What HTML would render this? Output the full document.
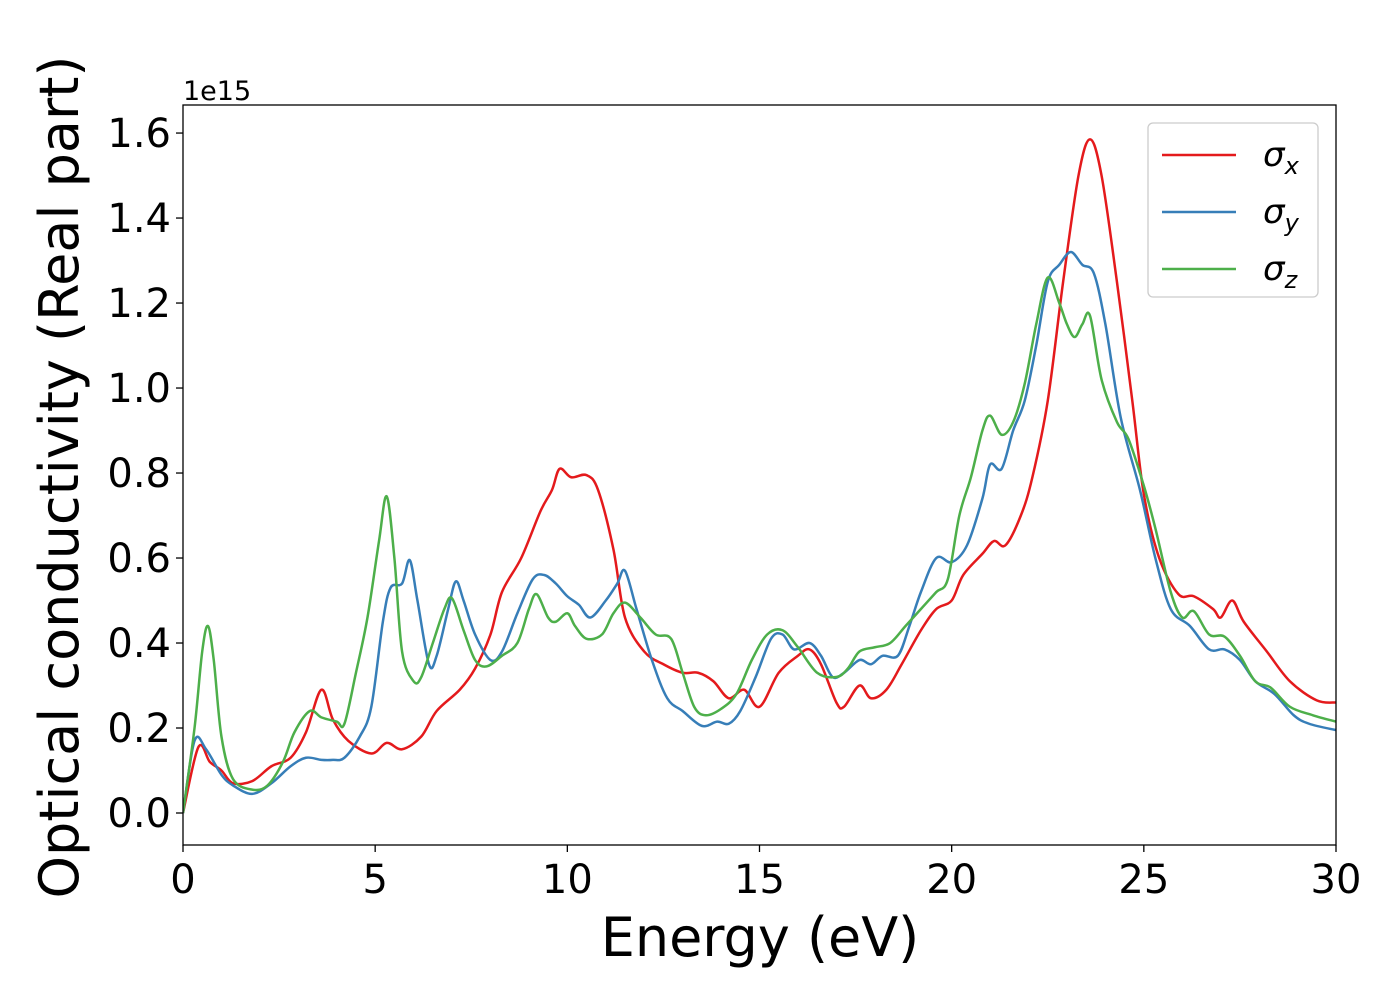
<!DOCTYPE html>
<html><head><meta charset="utf-8"><style>
body{margin:0;background:#fff}
svg{font-family:"DejaVu Sans","Liberation Sans",sans-serif}
</style></head><body>
<svg id="chart" width="1400" height="1000" xmlns="http://www.w3.org/2000/svg">
<rect width="1400" height="1000" fill="#fff"/>
<g id="plot"></g>
<g id="axes"></g>
</svg>
<script>
const xTicks=[0,5,10,15,20,25,30];
const yTicks=[0,0.2,0.4,0.6,0.8,1.0,1.2,1.4,1.6];
const yTickLabels=["0.0","0.2","0.4","0.6","0.8","1.0","1.2","1.4","1.6"];
const sxE=[0,0.4,0.7,1,1.3,1.8,2.3,2.8,3.2,3.6,3.9,4.3,4.9,5.3,5.7,6.2,6.6,7.2,7.6,8.0,8.3,8.8,9.3,9.6,9.8,10.1,10.5,10.8,11.2,11.5,12,12.5,13,13.4,13.8,14.2,14.6,15.0,15.5,16.0,16.3,16.6,17.0,17.2,17.6,17.9,18.3,18.7,19.2,19.6,20,20.3,20.8,21.1,21.4,21.8,22.1,22.5,22.9,23.3,23.6,23.9,24.3,24.7,25.0,25.4,25.9,26.3,26.8,27.0,27.3,27.6,28.2,28.8,29.5,30];
const sxV=[0,0.155,0.12,0.1,0.07,0.075,0.11,0.13,0.19,0.29,0.22,0.17,0.14,0.165,0.15,0.18,0.24,0.29,0.34,0.42,0.52,0.6,0.71,0.76,0.81,0.79,0.795,0.76,0.62,0.46,0.38,0.35,0.33,0.33,0.31,0.27,0.29,0.25,0.33,0.37,0.385,0.35,0.26,0.25,0.3,0.27,0.29,0.35,0.43,0.48,0.5,0.56,0.61,0.64,0.63,0.7,0.79,0.97,1.25,1.5,1.585,1.5,1.25,0.97,0.75,0.6,0.515,0.51,0.48,0.46,0.5,0.45,0.38,0.31,0.265,0.26];
const syE=[0,0.3,0.6,1,1.3,1.8,2.3,2.8,3.2,3.6,3.9,4.2,4.6,4.9,5.2,5.4,5.7,5.9,6.1,6.4,6.6,6.9,7.1,7.3,7.6,8.0,8.3,8.7,9.1,9.4,9.7,10,10.3,10.6,11,11.3,11.5,11.8,12.2,12.6,13.0,13.5,13.9,14.2,14.5,14.9,15.3,15.6,15.9,16.3,16.6,16.9,17.2,17.6,17.9,18.2,18.6,18.9,19.2,19.6,20,20.4,20.8,21.0,21.3,21.6,21.9,22.2,22.5,22.8,23.1,23.4,23.7,24.0,24.4,24.9,25.3,25.7,26.2,26.7,27.1,27.5,27.9,28.4,28.9,29.3,30];
const syV=[0,0.17,0.15,0.09,0.065,0.045,0.07,0.11,0.13,0.125,0.125,0.13,0.18,0.25,0.45,0.53,0.54,0.595,0.5,0.35,0.37,0.48,0.545,0.5,0.42,0.36,0.38,0.47,0.55,0.56,0.54,0.51,0.49,0.46,0.5,0.54,0.57,0.48,0.36,0.27,0.24,0.205,0.215,0.21,0.24,0.32,0.41,0.42,0.385,0.4,0.37,0.32,0.33,0.36,0.35,0.37,0.37,0.44,0.52,0.6,0.59,0.63,0.74,0.82,0.81,0.9,0.97,1.1,1.25,1.29,1.32,1.29,1.27,1.15,0.93,0.76,0.6,0.48,0.44,0.385,0.385,0.36,0.31,0.28,0.23,0.21,0.195];
const szE=[0,0.3,0.5,0.65,0.8,1.0,1.3,1.8,2.2,2.6,2.9,3.3,3.6,4.0,4.2,4.5,4.8,5.1,5.3,5.5,5.7,6.0,6.2,6.5,6.8,7.0,7.3,7.6,7.9,8.3,8.7,9.0,9.2,9.5,9.7,10.0,10.2,10.5,10.9,11.2,11.5,11.9,12.3,12.7,13.0,13.3,13.6,14.0,14.4,14.8,15.2,15.6,16.0,16.5,17.0,17.3,17.6,18.0,18.4,18.8,19.2,19.6,19.9,20.2,20.5,20.8,21.0,21.3,21.6,21.9,22.2,22.5,22.8,23.0,23.2,23.4,23.6,23.9,24.3,24.6,25.0,25.3,25.7,26.0,26.3,26.7,27.1,27.5,27.9,28.3,28.8,29.4,30];
const szV=[0,0.2,0.38,0.44,0.36,0.18,0.08,0.055,0.065,0.12,0.19,0.24,0.225,0.215,0.21,0.33,0.46,0.64,0.745,0.6,0.38,0.31,0.32,0.4,0.48,0.505,0.43,0.36,0.345,0.37,0.4,0.48,0.515,0.46,0.45,0.47,0.44,0.41,0.42,0.47,0.495,0.46,0.42,0.41,0.33,0.25,0.23,0.245,0.28,0.36,0.42,0.43,0.39,0.33,0.32,0.34,0.38,0.39,0.4,0.44,0.48,0.52,0.55,0.7,0.79,0.9,0.935,0.89,0.92,1.01,1.15,1.26,1.2,1.15,1.12,1.15,1.17,1.02,0.92,0.88,0.77,0.67,0.52,0.46,0.475,0.42,0.415,0.37,0.31,0.295,0.25,0.23,0.215];

const L=183,R=1336,T=105,B=845;
const xMin=0,xMax=30,yMin=-0.0753,yMax=1.666;
const X=v=>L+(v-xMin)/(xMax-xMin)*(R-L);
const Y=v=>B-(v-yMin)/(yMax-yMin)*(B-T);
const NS="http://www.w3.org/2000/svg";
function mk(tag,attrs,parent){const e=document.createElementNS(NS,tag);for(const k in attrs)e.setAttribute(k,attrs[k]);parent.appendChild(e);return e;}
function pathD(xs,ys){const p=xs.map((x,i)=>[X(x),Y(ys[i])]);let d=`M${p[0][0]},${p[0][1]}`;
for(let i=0;i<p.length-1;i++){const p0=p[Math.max(i-1,0)],p1=p[i],p2=p[i+1],p3=p[Math.min(i+2,p.length-1)];
const c1=[p1[0]+(p2[0]-p0[0])/6,p1[1]+(p2[1]-p0[1])/6],c2=[p2[0]-(p3[0]-p1[0])/6,p2[1]-(p3[1]-p1[1])/6];
d+=`C${c1[0]},${c1[1]} ${c2[0]},${c2[1]} ${p2[0]},${p2[1]}`;}return d;}
const plot=document.getElementById('plot'),axes=document.getElementById('axes');
mk('clipPath',{id:'clip'},plot).appendChild(Object.assign(document.createElementNS(NS,'rect'),{}));
document.querySelector('#clip rect').setAttribute('x',L);document.querySelector('#clip rect').setAttribute('y',T);
document.querySelector('#clip rect').setAttribute('width',R-L);document.querySelector('#clip rect').setAttribute('height',B-T);
const series=[[sxE,sxV,'#e41a1c','sigma-x-line'],[syE,syV,'#377eb8','sigma-y-line'],[szE,szV,'#4daf4a','sigma-z-line']];
series.forEach(s=>{const e=mk('path',{d:pathD(s[0],s[1]),fill:'none',stroke:s[2],'stroke-width':2.5,'clip-path':'url(#clip)'},plot);

});
const fr=mk('rect',{x:L,y:T,width:R-L,height:B-T,fill:'none',stroke:'#000','stroke-width':1.3},axes);


xTicks.forEach(t=>{mk('line',{x1:X(t),x2:X(t),y1:B,y2:B+7,stroke:'#000','stroke-width':1.3},axes);
const e=mk('text',{x:X(t),y:B+48,'font-size':40,'text-anchor':'middle'},axes);e.textContent=t;

});
yTicks.forEach((t,i)=>{mk('line',{x1:L-7,x2:L,y1:Y(t),y2:Y(t),stroke:'#000','stroke-width':1.3},axes);
const e=mk('text',{x:L-12,y:Y(t)+14,'font-size':40,'text-anchor':'end'},axes);e.textContent=yTickLabels[i];

});
let e=mk('text',{x:183,y:100,'font-size':27},axes);e.textContent='1e15';


e=mk('text',{x:760,y:956,'font-size':54,'text-anchor':'middle'},axes);e.textContent='Energy (eV)';


e=mk('text',{x:0,y:0,'font-size':54,'text-anchor':'middle',transform:'translate(78,477) rotate(-90)'},axes);e.textContent='Optical conductivity (Real part)';


const lg=mk('g',{},axes);


mk('rect',{x:1148,y:123,width:170,height:174,rx:5,fill:'#fff',stroke:'#ccc','stroke-width':1.3},lg);
const labs=['x','y','z'];
series.forEach((s,i)=>{const y=155+i*57;mk('line',{x1:1162,x2:1236,y1:y,y2:y,stroke:s[2],'stroke-width':2.5},lg);
const t=mk('text',{x:1263,y:y+11,'font-size':34,'font-style':'italic'},lg);t.innerHTML=`σ<tspan font-size="24" dy="8">${labs[i]}</tspan>`;

});
</script>
</body></html>
